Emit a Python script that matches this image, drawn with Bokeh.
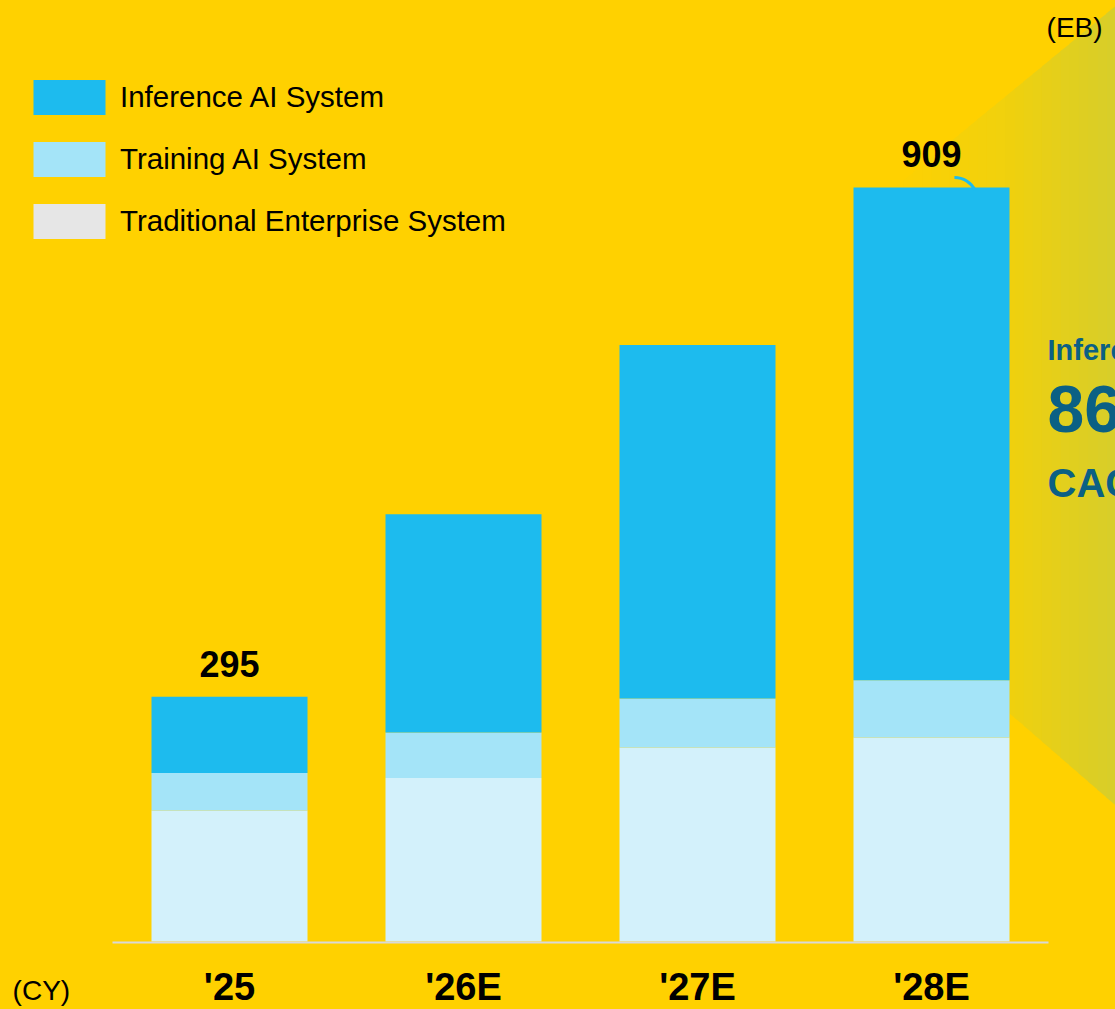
import numpy as np
from bokeh.plotting import figure
from bokeh.models import Range1d, ColumnDataSource, Legend, LegendItem
from bokeh.core.properties import value
from bokeh.embed import file_html
from bokeh.resources import INLINE

# ---------------- data ----------------
years = ["'25", "'26E", "'27E", "'28E"]
traditional = [158, 197, 234, 246]
training = [45, 55, 59, 69]
inference = [92, 263, 426, 594]
series_names = ["Inference AI System", "Training AI System", "Traditional Enterprise System"]
show_total = [True, False, False, True]
cagr_lines = ["Inference AI", "86%", "CAGR"]
unit_label = "(EB)"
axis_unit = "(CY)"

# ---------------- style ----------------
YELLOW = "#FFD100"
C_INF = "#1DBBEE"
C_TRN = "#A4E4F8"
C_TRD = "#D3F1FB"
C_TRD_LEG = "#E6E6E6"
TEAL = "#0B6084"
FONT = "Liberation Sans"

W, H = 1115, 1009
BASE_PX = 941
PX = 0.8295            # pixels per EB
X0_PX, PITCH = 229, 234
BAR_W = 156 / PITCH


def px(v):
    """convert a pixel distance into data units on the value axis"""
    return v / PX


x = list(range(len(years)))
totals = [a + b + c for a, b, c in zip(traditional, training, inference)]

source = ColumnDataSource(dict(
    x=x, years=years, trad=traditional, train=training, inf=inference,
    total=totals,
    total_label=[str(t) if s else "" for t, s in zip(totals, show_total)],
    label_y=[t + px(20 + 13) for t in totals],
    year_y=[px(-(1000 - BASE_PX) + 14)] * len(x),
))

p = figure(width=W, height=H, output_backend="svg", toolbar_location=None,
           x_range=Range1d(-X0_PX / PITCH, (W - X0_PX) / PITCH),
           y_range=Range1d(-px(H - BASE_PX), px(BASE_PX)),
           x_axis_location=None, y_axis_location=None,
           min_border=0,
           background_fill_color=YELLOW, border_fill_color=YELLOW, outline_line_color=None)
p.xgrid.visible = False
p.ygrid.visible = False

# ---------------- callout (gradient trapezoid) ----------------
last = x[-1]
left_x = last - 0.158
right_x = p.x_range.end
mid_x = last + BAR_W / 2
top_l, top_r = totals[-1], 1128.0
bot_l, bot_r = 395.0, 164.0
n = 24
stops = [(left_x, np.array([254, 210, 2])),
         (mid_x, np.array([240, 209, 14])),
         (right_x, np.array([215, 206, 43]))]


def grad(xv):
    if xv <= mid_x:
        f = (xv - stops[0][0]) / (stops[1][0] - stops[0][0])
        return stops[0][1] + (stops[1][1] - stops[0][1]) * f
    f = (xv - stops[1][0]) / (stops[2][0] - stops[1][0])
    return stops[1][1] + (stops[2][1] - stops[1][1]) * f


xs, ys, cols = [], [], []
for i in range(n):
    a = left_x + (right_x - left_x) * i / n
    b = left_x + (right_x - left_x) * (i + 1) / n
    fa = (a - left_x) / (right_x - left_x)
    fb = (b - left_x) / (right_x - left_x)
    xs.append([a, b + 0.002, b + 0.002, a])
    ys.append([top_l + (top_r - top_l) * fa, top_l + (top_r - top_l) * fb,
               bot_l + (bot_r - bot_l) * fb, bot_l + (bot_r - bot_l) * fa])
    c = np.clip(grad((a + b) / 2), 0, 255).astype(int)
    cols.append("#%02x%02x%02x" % tuple(c))
p.patches(xs=xs, ys=ys, fill_color=cols, line_color=None)

# ---------------- bars ----------------
rs = p.vbar_stack(["trad", "train", "inf"], x="x", width=BAR_W, source=source,
                  color=[C_TRD, C_TRN, C_INF], line_color=None)
# zero-height bar only used for the legend swatch of the traditional series
dummy = p.vbar(x=[x[0]], top=[0], bottom=[0], width=BAR_W,
               fill_color=C_TRD_LEG, line_color=None)

# baseline
p.segment(x0=[x[0] - 0.5], y0=[-px(1)], x1=[x[-1] + 0.5], y1=[-px(1)],
          line_color="#D9D9D9", line_width=2)

# totals
p.text(x="x", y="label_y", text="total_label", source=source,
       text_align="center", text_baseline="alphabetic",
       text_font=value(FONT), text_font_style="bold", text_font_size="36px",
       text_color="black")

# category labels
p.text(x="x", y="year_y", text="years", source=source,
       text_align="center", text_baseline="alphabetic",
       text_font=value(FONT), text_font_style="bold", text_font_size="38px",
       text_color="black")

# small callout arc on last bar
p.arc(x=[last + 0.098], y=[totals[-1] - px(13)], radius=23, radius_units="screen",
      start_angle=np.pi / 7, end_angle=np.pi / 2, direction="anticlock",
      line_color=C_INF, line_width=3)

# CAGR text
cagr_base_px = [360, 432, 497]
cagr_fs = [29, 66, 40]
for t, b, fs in zip(cagr_lines, cagr_base_px, cagr_fs):
    p.text(x=[3.496], y=[px(BASE_PX - b + 0.36 * fs)], text=[t], text_align="left",
           text_baseline="alphabetic", text_font=value(FONT), text_font_style="bold",
           text_font_size="%dpx" % fs, text_color=TEAL)

# unit labels
p.text(x=[3.731], y=[px(BASE_PX - 37 + 10)], text=[unit_label], text_align="right",
       text_baseline="alphabetic", text_font=value(FONT), text_font_size="28px",
       text_color="black")
p.text(x=[-0.927], y=[px(-(1000 - BASE_PX) + 10)], text=[axis_unit], text_align="left",
       text_baseline="alphabetic", text_font=value(FONT), text_font_size="28px",
       text_color="black")

# ---------------- legend ----------------
legend = Legend(items=[
    LegendItem(label=series_names[0], renderers=[rs[2]]),
    LegendItem(label=series_names[1], renderers=[rs[1]]),
    LegendItem(label=series_names[2], renderers=[dummy]),
], location=(24, H - 243), orientation="vertical",
    glyph_width=90, glyph_height=44, label_height=44, label_standoff=6,
    spacing=18, padding=0, margin=0, border_line_color=None,
    background_fill_alpha=0, label_text_font=FONT, label_text_font_size="29.5px",
    label_text_color="black")
p.add_layout(legend)

html = file_html(p, INLINE)
html = html.replace("<body>", '<body style="margin:0;background:%s;">' % YELLOW, 1)
html = html.replace("</head>", "<style>html{background:%s;}</style></head>" % YELLOW, 1)
open("out.html", "w").write(html)
